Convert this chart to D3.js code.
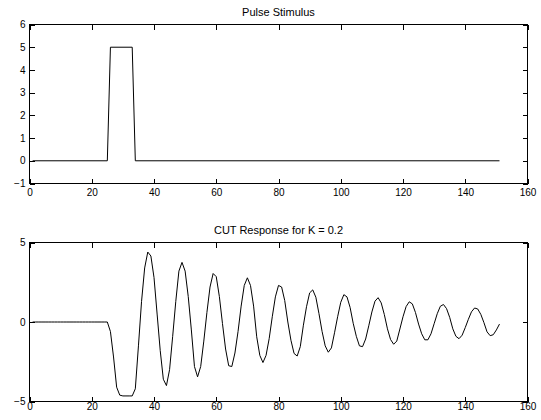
<!doctype html>
<html>
<head>
<meta charset="utf-8">
<title>Pulse Stimulus / CUT Response</title>
<script src="https://d3js.org/d3.v7.min.js"></script>
<style type="text/css">
	body { margin: 0; background: #fff; }
	.axis text { font-family: "Liberation Sans", Arial, sans-serif; font-size: 10px; fill: #000; }
	.axis path, .axis line { stroke: #000; shape-rendering: crispEdges; }
	.title { font-family: "Liberation Sans", Arial, sans-serif; font-size: 11px; fill: #000; }
	.trace { fill: none; stroke: #000; stroke-width: 1; }
</style>
</head>
<body>
<script>
	var w = 541;
	var h = 420;

	// pulse stimulus: breakpoints of the piecewise-linear trace
	var stimTime  = [1, 25, 26, 33, 34, 151];
	var stimValue = [0, 0, 5, 5, 0, 0];

	// response, one sample per time step 1..151
	var respTime = d3.range(1, 152);
	var respValue = [
		0, 0, 0, 0, 0, 0, 0, 0, 0, 0, 0, 0, 0, 0, 0, 0, 0, 0, 0, 0, 0, 0, 0, 0, 0,
		-0.6, -2.2, -4.1, -4.6, -4.65, -4.65, -4.65, -4.65, -4.2, -1.5,
		1.3, 3.4, 4.4, 4.15, 2.8, 0.5, -1.8, -3.6, -4.0, -3.0,
		-0.9, 1.3, 3.2, 3.75, 3.2, 1.6, -0.5, -2.8, -3.45, -2.8,
		-1.2, 0.6, 2.2, 3.05, 2.85, 1.6, -0.1, -1.7, -2.75, -2.8,
		-1.95, -0.6, 1.0, 2.3, 2.78, 2.3, 1.0, -0.93, -2.1, -2.55,
		-2.1, -1.05, 0.33, 1.58, 2.3, 2.2, 1.35, 0.0, -1.15, -1.98,
		-2.14, -1.55, -0.2, 0.96, 1.83, 2.02, 1.56, 0.53, -0.59, -1.5,
		-1.9, -1.63, -0.68, 0.33, 1.24, 1.72, 1.58, 0.92, -0.08, -0.9,
		-1.5, -1.55, -1.07, -0.24, 0.63, 1.31, 1.53, 1.2, 0.47, -0.43,
		-1.1, -1.4, -1.2, -0.44, 0.33, 0.97, 1.27, 1.14, 0.6, -0.13,
		-0.74, -1.12, -1.12, -0.74, -0.11, 0.52, 0.99, 1.1, 0.84, 0.29,
		-0.43, -0.9, -1.05, -0.83, -0.35, 0.17, 0.64, 0.88, 0.82, 0.48,
		-0.04, -0.62, -0.86, -0.8, -0.5, -0.13
	];

	var xTicks = [0, 20, 40, 60, 80, 100, 120, 140, 160];
	var stimYTicks = [-1, 0, 1, 2, 3, 4, 5, 6];
	var respYTicks = [-5, 0, 5];

	var fmt = function(d) { return d < 0 ? "\u2212" + Math.abs(d) : "" + d; };

	var svg = d3.select("body")
				.append("svg")
				.attr("width", w)
				.attr("height", h);

	function panel(cfg) {
		var xScale = d3.scaleLinear().domain([0, 160]).range([29.5, 527.5]);
		var yScale = d3.scaleLinear().domain(cfg.yDomain).range([cfg.bottom, cfg.top]);

		var g = svg.append("g");

		// ticks on all four sides, pointing inward
		g.append("g")
			.attr("class", "axis")
			.attr("transform", "translate(0," + cfg.bottom + ")")
			.call(d3.axisBottom(xScale).tickValues(xTicks).tickFormat(fmt)
				.tickSizeInner(-5).tickSizeOuter(0).tickPadding(cfg.xPad));

		g.append("g")
			.attr("class", "axis")
			.attr("transform", "translate(0," + cfg.top + ")")
			.call(d3.axisTop(xScale).tickValues(xTicks).tickFormat("")
				.tickSizeInner(-5).tickSizeOuter(0));

		g.append("g")
			.attr("class", "axis")
			.attr("transform", "translate(29.5,0)")
			.call(d3.axisLeft(yScale).tickValues(cfg.yTicks).tickFormat(fmt)
				.tickSizeInner(-5).tickSizeOuter(0).tickPadding(4));

		g.append("g")
			.attr("class", "axis")
			.attr("transform", "translate(527.5,0)")
			.call(d3.axisRight(yScale).tickValues(cfg.yTicks).tickFormat("")
				.tickSizeInner(-5).tickSizeOuter(0));

		g.selectAll(".axis .domain").remove();

		g.append("rect")
			.attr("x", xScale(0))
			.attr("y", cfg.top)
			.attr("width", xScale(160) - xScale(0))
			.attr("height", cfg.bottom - cfg.top)
			.attr("fill", "none")
			.attr("stroke", "#000")
			.attr("shape-rendering", "crispEdges");

		var line = d3.line()
			.x(function(d) { return xScale(d[0]); })
			.y(function(d) { return yScale(d[1]); });

		g.append("path")
			.datum(d3.zip(cfg.t, cfg.v))
			.attr("class", "trace")
			.attr("d", line);

		g.append("text")
			.attr("class", "title")
			.attr("x", (xScale(0) + xScale(160)) / 2)
			.attr("y", cfg.titleY)
			.attr("text-anchor", "middle")
			.text(cfg.title);
	}

	panel({
		title: "Pulse Stimulus", titleY: 16,
		top: 24.5, bottom: 183.5,
		yDomain: [-1, 6], yTicks: stimYTicks, xPad: 5,
		t: stimTime, v: stimValue
	});

	panel({
		title: "CUT Response for K = 0.2", titleY: 234,
		top: 242.5, bottom: 401.5,
		yDomain: [-5, 5], yTicks: respYTicks, xPad: 1,
		t: respTime, v: respValue
	});
</script>
</body>
</html>
